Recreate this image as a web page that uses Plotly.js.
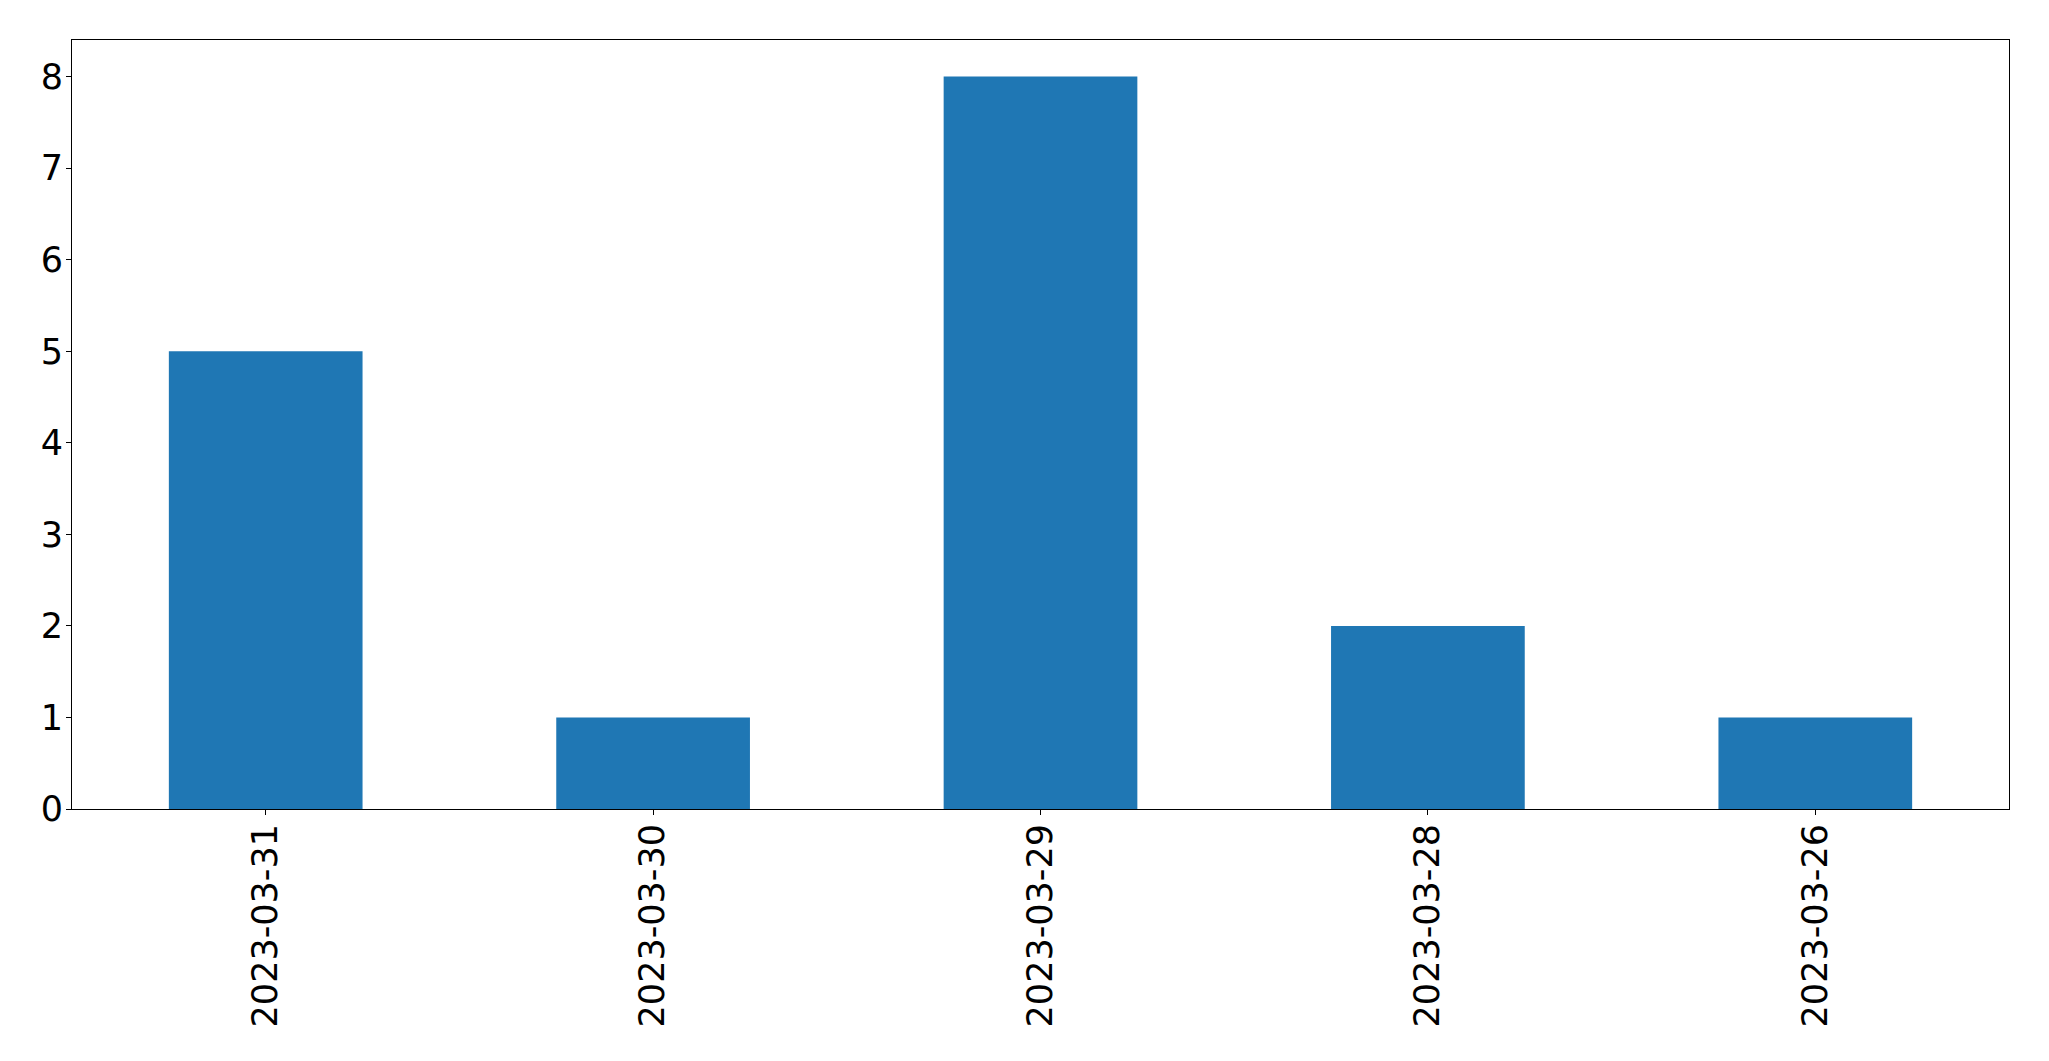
<!DOCTYPE html>
<html>
<head>
<meta charset="utf-8">
<script src="https://cdn.plot.ly/plotly-3.0.1.min.js"></script>
<style>html,body{margin:0;padding:0;background:#fff;}#chart{width:2049px;height:1061px;}</style>
</head>
<body>
<div id="chart"></div>
<script>
const categories = ["2023-03-31", "2023-03-30", "2023-03-29", "2023-03-28", "2023-03-26"];
const counts = [5, 1, 8, 2, 1];
const yTicks = [0, 1, 2, 3, 4, 5, 6, 7, 8];

const trace = {
  type: 'bar',
  x: categories,
  y: counts,
  marker: {color: '#1f77b4', line: {width: 0}},
  hoverinfo: 'x+y'
};

const axisFont = {family: 'DejaVu Sans, sans-serif', size: 35, color: '#000'};

const layout = {
  width: 2049,
  height: 1061,
  margin: {l: 72, r: 40, t: 40, b: 252, pad: 0},
  paper_bgcolor: '#fff',
  plot_bgcolor: '#fff',
  showlegend: false,
  bargap: 0.5,
  font: axisFont,
  xaxis: {
    type: 'category',
    range: [-0.5, categories.length - 0.5],
    tickangle: -90,
    ticks: 'outside',
    ticklen: 5,
    tickwidth: 1,
    tickcolor: '#000',
    showline: true,
    linecolor: '#000',
    linewidth: 1,
    mirror: true,
    showgrid: false,
    zeroline: false,
    tickfont: axisFont,
    ticklabelstandoff: -5
  },
  yaxis: {
    range: [0, 8.4],
    tickvals: yTicks,
    ticktext: yTicks.map(String),
    ticks: 'outside',
    ticklen: 5,
    tickwidth: 1,
    tickcolor: '#000',
    showline: true,
    linecolor: '#000',
    linewidth: 1,
    mirror: true,
    showgrid: false,
    zeroline: false,
    tickfont: axisFont,
    ticklabelstandoff: -4
  }
};

Plotly.newPlot('chart', [trace], layout, {displayModeBar: false, staticPlot: true});
</script>
</body>
</html>
